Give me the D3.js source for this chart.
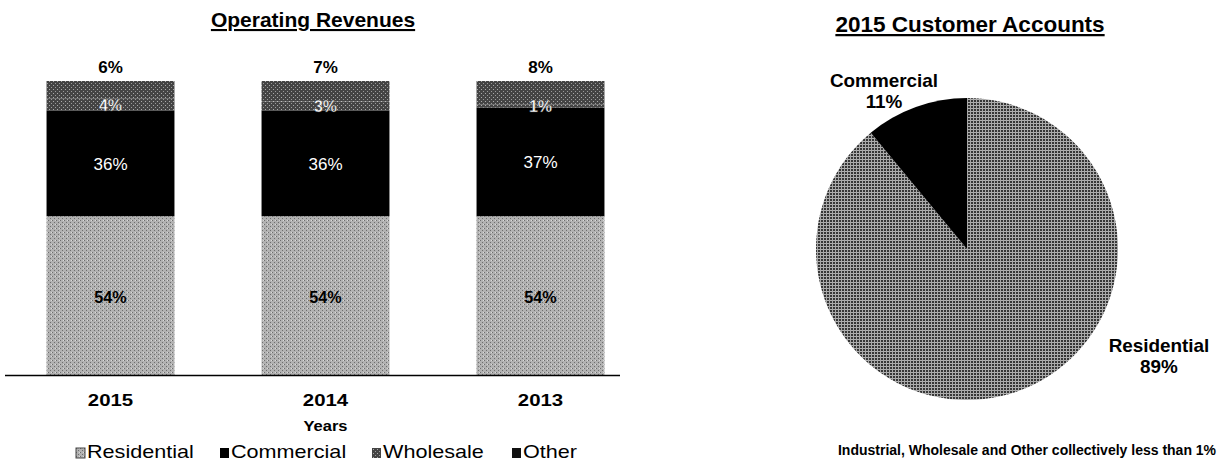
<!DOCTYPE html>
<html><head><meta charset="utf-8">
<script src="https://cdn.jsdelivr.net/npm/d3@7/dist/d3.min.js"></script>
<style>
html,body{margin:0;padding:0;background:#fff;}
svg{display:block;font-family:"Liberation Sans",Arial,sans-serif;}
</style></head>
<body>
<svg id="c" width="1230" height="466"></svg>
<script>
// ---- data ----
const years = ["2015", "2014", "2013"];
const residential = [54, 54, 54];
const commercial = [36, 36, 37];
const wholesale = [4, 3, 1];
const other = [6, 7, 8];
const seriesNames = ["Residential", "Commercial", "Wholesale", "Other"];
const pieLabels = ["Residential", "Commercial"];
const pieValues = [89, 11];
const barTitle = "Operating Revenues";
const pieTitle = "2015 Customer Accounts";
const xAxisTitle = "Years";
const footnote = "Industrial, Wholesale and Other collectively less than 1%";

const svg = d3.select("#c");
const defs = svg.append("defs");

function pattern(id, size, base, dots) {
  const p = defs.append("pattern").attr("id", id).attr("patternUnits", "userSpaceOnUse")
    .attr("width", size).attr("height", size);
  p.append("rect").attr("width", size).attr("height", size).attr("fill", base);
  dots.forEach(d => p.append("rect").attr("x", d[0]).attr("y", d[1])
    .attr("width", d[2] || 1).attr("height", d[3] || 1).attr("fill", d[4]));
}
pattern("pRes", 4, "#b2b2b2", [[0,0,1,1,"#6e6e6e"],[2,2,1,1,"#6e6e6e"],[3,0,1,1,"#dadada"]]);
pattern("pWho", 4, "#444444", [[1,1,1,1,"#aaaaaa"],[3,3,1,1,"#9a9a9a"]]);
pattern("pOth", 4, "#444444", [[1,1,1,1,"#aaaaaa"],[3,3,1,1,"#9a9a9a"]]);
pattern("pPie", 3, "#363636", [[0,0,3,1,"#b0b0b0"],[0,0,1,3,"#a8a8a8"]]);

const fills = {Residential: "url(#pRes)", Commercial: "#000", Wholesale: "url(#pWho)", Other: "url(#pOth)"};

function txt(g, x, y, s, o) {
  const sx = o.sx || 1;
  return g.append("text")
    .attr("transform", `translate(${x},${y}) scale(${sx},1)`)
    .attr("text-anchor", o.anchor || "middle")
    .attr("font-size", o.size)
    .attr("font-weight", o.weight || "normal")
    .attr("fill", o.fill || "#000")
    .attr("text-decoration", o.underline ? "underline" : null)
    .attr("dominant-baseline", o.baseline || null)
    .text(s);
}

// ---- bar chart ----
const x = d3.scaleBand().domain(years).range([3, 648]).paddingInner(0.405).paddingOuter(0.2025);
const y = d3.scaleLinear().domain([0, 100]).range([375, 81]);

const table = years.map((yr, i) => ({year: yr, Residential: residential[i], Commercial: commercial[i], Wholesale: wholesale[i], Other: other[i]}));
const stack = d3.stack().keys(seriesNames)(table);

const gBar = svg.append("g");
stack.forEach(layer => {
  gBar.append("g").selectAll("rect").data(layer).join("rect")
    .attr("x", d => x(d.data.year))
    .attr("width", x.bandwidth())
    .attr("y", d => y(d[1]))
    .attr("height", d => y(d[0]) - y(d[1]))
    .attr("fill", fills[layer.key]);
});

// axis baseline
svg.append("line").attr("x1", 5).attr("x2", 620).attr("y1", y(0) + 0.5).attr("y2", y(0) + 0.5)
  .attr("stroke", "#000").attr("stroke-width", 1.5);

// labels
stack.forEach(layer => {
  layer.forEach(d => {
    const cx = x(d.data.year) + x.bandwidth() / 2;
    const v = d.data[layer.key];
    if (layer.key === "Residential") {
      txt(gBar, cx, (y(d[0]) + y(d[1])) / 2 + 2, v + "%", {size: 17, weight: "bold", baseline: "central", sx: 0.95});
    } else if (layer.key === "Commercial") {
      txt(gBar, cx, (y(d[0]) + y(d[1])) / 2 + 1, v + "%", {size: 17, fill: "#fff", baseline: "central"});
    } else if (layer.key === "Wholesale") {
      txt(gBar, cx, (y(d[0]) + y(d[1])) / 2 + 1, v + "%", {size: 16, weight: "bold", fill: "#fff", baseline: "central"})
        .attr("stroke", "#333").attr("stroke-width", 0.4);
    } else {
      txt(gBar, cx, y(d[1]) - 8, v + "%", {size: 17, weight: "bold"});
    }
  });
});

// x tick labels
years.forEach(yr => txt(svg, x(yr) + x.bandwidth() / 2, 406, yr, {size: 17, weight: "bold", sx: 1.2}));
txt(svg, x(years[1]) + x.bandwidth() / 2, 431, xAxisTitle, {size: 15, weight: "bold", sx: 1.1});

// title
txt(svg, 313, 27, barTitle, {size: 21, weight: "bold", underline: true});

// legend
const legX = [76, 220, 372, 512];
seriesNames.forEach((n, i) => {
  svg.append("rect").attr("x", legX[i]).attr("y", 448).attr("width", 9).attr("height", 10)
    .attr("fill", i === 3 ? "#111" : fills[n]).attr("stroke", i === 0 ? "#444" : "none").attr("stroke-width", 1);
  txt(svg, legX[i] + 11, 458, n, {size: 18, anchor: "start", sx: 1.2});
});

// ---- pie ----
const cx = 967, cy = 249, R = 151;
const pie = d3.pie().sort(null).value(d => d)(pieValues);
const arc = d3.arc().innerRadius(0).outerRadius(R);
const gPie = svg.append("g").attr("transform", `translate(${cx},${cy})`);
gPie.selectAll("path").data(pie).join("path")
  .attr("d", arc)
  .attr("fill", (d, i) => i === 0 ? "url(#pPie)" : "#000");

txt(svg, 970, 32, pieTitle, {size: 22.5, weight: "bold", underline: true});

// pie labels
const labPos = [[1159, 352, 373], [884, 87, 108]];
pie.forEach((d, i) => {
  txt(svg, labPos[i][0], labPos[i][1], pieLabels[i], {size: 18, weight: "bold", sx: 1.05});
  txt(svg, labPos[i][0], labPos[i][2], Math.round(d.value) + "%", {size: 18, weight: "bold", sx: 1.05});
});

txt(svg, 1027, 455, footnote, {size: 14, weight: "bold"});
</script>
</body></html>
